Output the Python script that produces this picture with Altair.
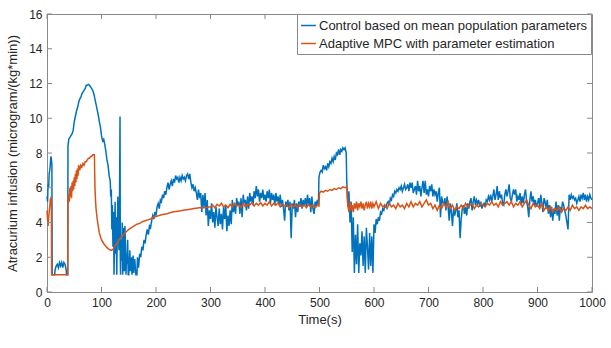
import altair as alt
import pandas as pd

# ---- data ----
blue_t = [0, 1, 2, 3, 4, 5, 6, 7, 8, 9, 9.5, 14, 15, 17, 19, 21, 23, 25, 27, 29, 31, 33, 35, 36, 38,
          38.5, 40, 42, 44, 46, 48, 50, 52, 54, 56, 58, 60, 62, 64, 66, 68, 70, 72, 74, 76, 78, 80,
          82, 84, 86, 88, 90, 92, 94, 96, 98, 100, 102, 104, 106, 108, 110, 112, 114, 116, 117, 118,
          119, 120, 121, 122, 123, 124, 125, 126, 127, 128, 129, 130, 131, 132, 133, 134, 134.5, 135,
          136, 137, 138, 139, 140, 141, 142, 143, 144, 145, 146, 147, 148, 149, 150, 152, 153, 155,
          156, 158, 159, 161, 163, 165, 166, 168, 170, 172, 174, 176, 178, 180, 182, 184, 186, 188,
          190, 192, 194, 196, 198, 200, 202, 204, 206, 208, 210, 212, 214, 216, 218, 220, 222, 224,
          226, 228, 230, 232, 234, 236, 238, 240, 242, 244, 246, 248, 250, 252, 254, 256, 258, 260,
          262, 264, 266, 268, 270, 272, 274, 276, 278, 280, 282, 284, 286, 288, 290, 292, 294, 296,
          298, 300, 302, 304, 306, 308, 310, 312, 314, 316, 318, 320, 322, 324, 326, 328, 330, 332,
          334, 336, 338, 340, 342, 344, 346, 348, 350, 352, 354, 356, 358, 360, 362, 364, 366, 368,
          370, 372, 374, 376, 378, 380, 382, 384, 386, 388, 390, 392, 394, 396, 398, 400, 402, 404,
          406, 408, 410, 412, 414, 416, 418, 420, 422, 424, 426, 428, 430, 432, 434, 436, 438, 440,
          442, 444, 446, 448, 450, 452, 454, 456, 458, 460, 462, 464, 466, 468, 470, 472, 474, 476,
          478, 480, 482, 484, 486, 488, 490, 492, 494, 496, 498, 499, 501, 503, 505, 507, 509, 511,
          513, 515, 517, 519, 521, 523, 525, 527, 529, 531, 533, 535, 537, 539, 541, 543, 545, 547,
          549, 550, 552, 554, 556, 558, 560, 562, 564, 566, 568, 570, 572, 574, 576, 578, 580, 582,
          584, 586, 588, 590, 592, 594, 596, 598, 600, 602, 604, 606, 608, 610, 612, 614, 616, 618,
          620, 622, 624, 626, 628, 630, 632, 634, 636, 638, 640, 642, 644, 646, 648, 650, 652, 654,
          656, 658, 660, 662, 664, 666, 668, 670, 672, 674, 676, 678, 680, 682, 684, 686, 688, 690,
          692, 694, 696, 698, 700, 702, 704, 706, 708, 710, 712, 714, 716, 718, 720, 722, 724, 726,
          728, 730, 732, 734, 736, 738, 740, 742, 744, 746, 748, 750, 752, 754, 756, 758, 760, 762,
          764, 766, 768, 770, 772, 774, 776, 778, 780, 782, 784, 786, 788, 790, 792, 794, 796, 798,
          800, 802, 804, 806, 808, 810, 812, 814, 816, 818, 820, 822, 824, 826, 828, 830, 832, 834,
          836, 838, 840, 842, 844, 846, 848, 850, 852, 854, 856, 858, 860, 862, 864, 866, 868, 870,
          872, 874, 876, 878, 880, 882, 884, 886, 888, 890, 892, 894, 896, 898, 900, 902, 904, 906,
          908, 910, 912, 914, 916, 918, 920, 922, 924, 926, 928, 930, 932, 934, 936, 938, 940, 942,
          944, 946, 948, 950, 952, 954, 956, 958, 960, 962, 964, 966, 968, 970, 972, 974, 976, 978,
          980, 982, 984, 986, 988, 990, 992, 994, 996, 998, 1000]
blue_v = [5.5, 5.2, 6.2, 6.0, 6.8, 7.0, 7.3, 7.8, 7.7, 7.3, 1.0, 1.0, 1.3, 1.5, 1.6, 1.4, 1.7, 1.5,
          1.7, 1.4, 1.7, 1.6, 1.3, 1.0, 1.0,
          8.4, 8.8, 8.9, 9.0, 9.1, 9.3, 9.8, 10.1, 10.4, 10.6, 10.9, 11.1, 11.2, 11.4, 11.5, 11.6,
          11.7, 11.9, 11.9, 11.95, 11.9, 11.8, 11.7, 11.6, 11.4, 11.1, 10.8, 10.5, 10.2, 9.8, 9.5,
          9.0, 8.7, 8.8, 8.5, 8.1, 7.6, 7.3, 6.7, 6.4, 5.5, 5.9,
          3.6, 5.0, 2.6, 4.6, 1.0, 3.1, 5.2, 2.2, 4.3, 1.0, 3.5, 5.5, 4.2, 2.4, 5.0, 10.1, 2.0, 1.0,
          3.0, 1.8, 4.0, 1.0, 2.5, 3.7, 1.2, 3.8, 2.7, 1.0, 2.2, 1.6, 3.0, 1.0, 1.0, 2.4, 1.2, 2.0,
          1.0, 2.1, 1.1, 1.9, 1.0, 1.0, 2.0, 1.4, 2.2, 2.0, 2.6, 2.4, 3.0, 2.8, 3.3, 3.6, 3.3, 3.8,
          3.7, 4.1, 4.4, 4.2, 4.6, 4.4, 4.9, 5.1, 4.8, 5.3, 5.2, 5.6, 5.4, 5.8, 5.6, 6.0, 6.3, 5.9,
          6.2, 6.4, 6.1, 6.5, 6.3, 6.7, 6.5, 6.6, 6.3, 6.6, 6.4, 6.7, 6.5, 6.6, 6.4, 6.7, 6.8, 6.5,
          6.8, 6.3, 6.0, 6.2, 5.8, 6.0, 5.7, 5.3, 5.9, 5.4, 5.7, 4.6, 5.6, 4.9, 5.7, 4.4, 5.3, 3.8,
          4.7, 4.2, 5.1, 4.0, 4.6, 3.7, 4.9, 4.3, 3.8, 4.8, 3.9, 4.5, 3.6, 4.9, 4.2, 5.0, 3.5, 4.4,
          3.8, 4.7, 3.9, 5.3, 4.6, 5.0, 4.5, 5.4, 5.0, 5.2, 4.5, 5.4, 4.3, 5.6, 5.1, 5.3, 4.7, 5.5,
          4.8, 5.7, 5.2, 5.5, 5.0, 5.8, 5.4, 6.1, 5.5, 5.9, 5.2, 5.7, 5.4, 5.9, 5.3, 5.6, 5.2, 5.8,
          5.4, 5.9, 5.1, 5.7, 5.3, 5.6, 5.0, 5.7, 5.2, 5.5, 5.0, 5.6, 4.9, 5.3, 4.8, 4.1, 5.2, 4.9,
          5.3, 4.7, 5.2, 3.1, 5.1, 4.8, 5.3, 4.3, 5.1, 4.6, 5.2, 4.9, 5.4, 4.8, 5.3, 5.0, 5.4, 4.9,
          5.6, 5.0, 5.4, 4.6, 5.5, 4.8, 4.5, 5.2, 5.0, 5.3, 5.0, 6.6, 6.9, 7.0, 6.9, 7.3, 7.1, 7.2,
          7.0, 7.4, 7.2, 7.5, 7.4, 7.7, 7.5, 7.8, 7.6, 8.0, 7.9, 8.2, 7.9, 8.2, 8.1, 8.3, 8.2, 8.3,
          8.0, 6.4, 4.9, 5.8, 4.0, 5.2, 2.3, 4.3, 1.1, 3.3, 1.6, 3.9, 1.1, 2.8, 2.1, 3.5, 1.5, 3.2,
          1.1, 3.7, 2.6, 1.3, 3.4, 1.5, 3.2, 1.1, 3.9, 3.4, 4.2, 3.9, 4.3, 4.1, 4.6, 4.5, 4.8, 4.7,
          5.0, 4.9, 5.1, 5.2, 5.0, 5.4, 5.3, 5.6, 5.5, 5.8, 5.7, 5.9, 5.8, 6.0, 5.9, 6.1, 5.8, 6.0,
          6.2, 5.9, 6.0, 6.2, 5.8, 6.3, 6.0, 6.3, 5.7, 5.9, 6.1, 5.6, 6.4, 5.8, 6.1, 5.5, 6.0, 6.4,
          5.7, 6.4, 5.6, 5.9, 5.5, 6.1, 5.8, 6.2, 5.5, 5.9, 5.6, 5.8, 5.2, 5.7, 6.0, 4.3, 5.5, 5.2,
          5.0, 5.4, 4.7, 5.5, 4.9, 4.1, 5.1, 4.6, 3.8, 4.8, 4.4, 4.7, 5.1, 4.3, 4.7, 3.1, 4.2, 4.8,
          5.0, 4.5, 4.9, 4.4, 5.1, 4.8, 5.2, 5.4, 4.7, 5.2, 5.5, 5.0, 5.3, 5.1, 5.3, 4.9, 5.2, 4.8,
          5.0, 5.1, 4.9, 5.3, 5.2, 5.5, 5.3, 5.6, 5.2, 5.5, 5.9, 5.3, 5.6, 6.1, 5.3, 5.8, 5.4, 5.6,
          5.1, 5.0, 5.6, 5.9, 5.5, 5.8, 6.2, 5.4, 5.2, 5.6, 5.9, 5.6, 5.9, 5.2, 5.5, 5.3, 5.7, 5.0,
          5.5, 5.1, 5.6, 5.9, 5.2, 4.9, 4.3, 5.3, 5.8, 5.2, 5.5, 5.0, 5.3, 4.9, 5.1, 5.4, 4.9, 5.6,
          5.1, 4.6, 5.4, 5.2, 4.8, 5.3, 4.5, 5.0, 4.3, 4.9, 4.1, 4.8, 4.5, 5.2, 4.4, 5.0, 4.1, 4.9,
          4.6, 5.2, 5.0, 4.7, 4.4, 4.0, 3.6, 5.6, 5.3, 5.6, 5.4, 5.5, 5.3, 5.4, 5.1, 5.3, 5.5, 5.2,
          5.6, 5.4, 5.7, 5.3, 5.6, 5.2, 5.5, 5.3, 5.6, 5.4, 5.3]

orange_t = [0, 1, 2, 3, 4, 5, 6, 7, 8, 8.5, 38, 38.5, 40, 41, 42, 43, 44, 45, 46, 47, 48, 49, 50,
            51, 52, 53, 54, 55, 56, 57, 58, 60, 62, 64, 66, 68, 70, 72, 74, 76, 78, 80, 82, 84, 86,
            87, 87.5, 88, 89, 90, 92, 94, 96, 98, 100, 103, 106, 110, 114, 118, 121, 124, 128, 132,
            136, 140, 145, 150, 155, 160, 165, 170, 175, 180, 185, 190, 195, 200, 210, 220, 230,
            240, 250, 260, 270, 280, 290, 300, 304, 308, 312, 316, 320, 324, 328, 332, 336, 340,
            344, 348, 352, 356, 360, 364, 368, 372, 376, 380, 384, 388, 392, 396, 400, 404, 408,
            412, 416, 420, 424, 428, 432, 436, 440, 444, 448, 452, 456, 460, 464, 468, 472, 476,
            480, 484, 488, 492, 496, 499, 500, 503, 507, 511, 515, 519, 523, 527, 531, 535, 539,
            543, 547, 550, 552, 554, 556, 558, 560, 562, 564, 566, 568, 570, 572, 574, 576, 578,
            580, 582, 584, 586, 588, 590, 592, 594, 596, 598, 600, 604, 608, 612, 616, 620, 624,
            628, 632, 636, 640, 644, 648, 652, 656, 660, 664, 668, 672, 676, 680, 684, 688, 692,
            696, 700, 704, 708, 712, 716, 720, 724, 728, 732, 736, 740, 744, 748, 752, 756, 760,
            764, 768, 772, 776, 780, 784, 788, 792, 796, 800, 804, 808, 812, 816, 820, 824, 828,
            832, 836, 840, 844, 848, 852, 856, 860, 864, 868, 872, 876, 880, 884, 888, 892, 896,
            900, 904, 908, 912, 916, 920, 924, 928, 932, 936, 940, 944, 948, 952, 956, 960, 964,
            968, 972, 976, 980, 984, 988, 992, 996, 1000]
orange_v = [4.7, 4.2, 3.8, 4.3, 4.6, 4.9, 5.3, 5.4, 5.5, 1.0, 1.0, 5.4, 5.6, 5.2, 6.0, 5.5, 6.1,
            5.4, 6.3, 5.8, 6.4, 5.9, 6.6, 6.1, 6.8, 6.3, 7.0, 6.5, 7.1, 6.7, 7.3, 7.0, 7.3, 7.2,
            7.4, 7.3, 7.5, 7.5, 7.6, 7.7, 7.7, 7.8, 7.8, 7.9, 7.9, 7.9, 6.8, 6.0, 5.3, 4.8, 4.2,
            3.8, 3.4, 3.2, 3.0, 2.85, 2.7, 2.55, 2.45, 2.4, 2.45, 2.6, 2.8, 3.0, 3.15, 3.3, 3.45,
            3.6, 3.7, 3.8, 3.9, 3.95, 4.05, 4.1, 4.15, 4.2, 4.3, 4.35, 4.45, 4.5, 4.6, 4.65, 4.7,
            4.75, 4.8, 4.85, 4.85, 4.9, 5.0, 4.85, 5.05, 4.95, 5.1, 4.9, 5.0, 4.85, 5.05, 4.9,
            5.1, 4.95, 5.0, 4.85, 5.1, 4.9, 5.05, 5.0, 5.15, 4.95, 5.1, 5.0, 5.15, 4.95, 5.1, 5.0,
            5.2, 4.95, 5.1, 5.0, 5.15, 4.9, 5.05, 4.95, 5.0, 4.85, 5.05, 4.9, 5.0, 4.85, 5.05,
            4.9, 5.0, 4.85, 5.05, 4.9, 5.0, 4.85, 5.0, 4.95, 5.7, 5.8, 5.75, 5.85, 5.8, 5.9, 5.85,
            5.95, 5.9, 6.0, 5.95, 6.05, 6.0, 6.05, 5.0, 4.6, 5.2, 4.7, 5.0, 4.6, 5.1, 4.8, 5.2,
            4.7, 5.1, 4.9, 5.2, 4.8, 5.1, 4.7, 5.0, 5.2, 4.8, 5.1, 4.9, 5.2, 4.8, 5.1, 4.9, 5.2,
            4.8, 5.1, 4.9, 5.0, 4.8, 5.1, 4.9, 5.0, 4.8, 5.1, 4.9, 5.0, 4.8, 5.1, 4.9, 5.2, 4.9,
            5.1, 5.0, 5.2, 4.9, 5.1, 5.3, 5.0, 5.1, 4.8, 5.0, 4.7, 5.0, 4.8, 5.1, 4.9, 5.2, 4.8,
            5.0, 4.7, 4.9, 4.8, 5.0, 4.8, 5.1, 4.9, 5.0, 5.1, 4.8, 5.0, 4.9, 5.1, 5.0, 4.9, 5.1,
            5.0, 5.2, 5.0, 5.1, 4.9, 5.2, 5.0, 5.1, 5.2, 5.0, 5.2, 4.9, 5.1, 5.0, 5.2, 4.9, 5.1,
            5.3, 5.0, 4.8, 5.1, 4.9, 5.0, 4.8, 5.1, 4.7, 4.9, 4.7, 4.9, 4.6, 4.8, 4.7, 4.9, 4.6,
            4.8, 4.7, 4.9, 4.7, 5.0, 4.8, 4.9, 4.7, 4.9, 4.8, 5.0, 4.8, 4.9, 4.8]

series_names = ["Control based on mean population parameters",
                "Adaptive MPC with parameter estimation"]
series_colors = ["#0072BD", "#D95319"]
x_tick_values = list(range(0, 1001, 100))
y_tick_values = list(range(0, 17, 2))

# ---- tables ----
blue_df = pd.DataFrame({"t": blue_t, "v": blue_v, "s": series_names[0]})
orange_df = pd.DataFrame({"t": orange_t, "v": orange_v, "s": series_names[1]})
xt_df = pd.DataFrame({"t": x_tick_values})
yt_df = pd.DataFrame({"v": y_tick_values})

FONT = "Liberation Sans"
FRAME = "#8a8a8a"
TXT = "#262626"
W, H = 545, 278

x_scale = alt.Scale(domain=[0, 1000], nice=False, zero=False)
y_scale = alt.Scale(domain=[0, 16], nice=False)
color_scale = alt.Scale(domain=series_names, range=series_colors)

x_axis = alt.Axis(values=x_tick_values, grid=False, ticks=False, domain=False, format="d",
                  labelOverlap=False, labelFlush=False,
                  labelFont=FONT, labelFontSize=12, labelColor=TXT, labelPadding=5,
                  title="Time(s)", titleFont=FONT, titleFontSize=13, titleFontWeight="normal",
                  titleColor=TXT, titlePadding=5)
y_axis = alt.Axis(values=y_tick_values, grid=False, ticks=False, domain=False, format="d",
                  labelOverlap=False, labelFlush=False,
                  labelFont=FONT, labelFontSize=12, labelColor=TXT, labelPadding=5,
                  title="Atracurium infusion (microgram/(kg*min))", titleFont=FONT,
                  titleFontSize=13, titleFontWeight="normal", titleColor=TXT, titlePadding=9)

legend = alt.Legend(title=None, orient="none", legendX=250, legendY=0,
                    symbolType="stroke", symbolSize=220, symbolStrokeWidth=1.5,
                    labelFont=FONT, labelFontSize=13, labelColor=TXT, labelLimit=400,
                    rowPadding=2, padding=3, strokeColor=FRAME, fillColor="white",
                    symbolOffset=0, labelOffset=2)

blue = alt.Chart(blue_df).mark_line(strokeWidth=1.5, interpolate="linear").encode(
    x=alt.X("t:Q", scale=x_scale, axis=x_axis),
    y=alt.Y("v:Q", scale=y_scale, axis=y_axis),
    color=alt.Color("s:N", scale=color_scale, legend=legend),
)
orange = alt.Chart(orange_df).mark_line(strokeWidth=1.5, interpolate="linear").encode(
    x=alt.X("t:Q", scale=x_scale, axis=x_axis),
    y=alt.Y("v:Q", scale=y_scale, axis=y_axis),
    color=alt.Color("s:N", scale=color_scale, legend=legend),
)

tick_len = 5
xb = alt.Chart(xt_df).mark_rule(color=FRAME, strokeWidth=1).encode(
    x=alt.X("t:Q", scale=x_scale, axis=x_axis), y=alt.value(H), y2=alt.value(H - tick_len))
xtop = alt.Chart(xt_df).mark_rule(color=FRAME, strokeWidth=1).encode(
    x=alt.X("t:Q", scale=x_scale, axis=x_axis), y=alt.value(0), y2=alt.value(tick_len))
yl = alt.Chart(yt_df).mark_rule(color=FRAME, strokeWidth=1).encode(
    y=alt.Y("v:Q", scale=y_scale, axis=y_axis), x=alt.value(0), x2=alt.value(tick_len))
yr = alt.Chart(yt_df).mark_rule(color=FRAME, strokeWidth=1).encode(
    y=alt.Y("v:Q", scale=y_scale, axis=y_axis), x=alt.value(W), x2=alt.value(W - tick_len))

chart = alt.layer(blue, orange, xb, xtop, yl, yr).properties(
    width=W, height=H,
    padding={"left": 47, "top": 14, "right": 19, "bottom": 56},
    autosize=alt.AutoSizeParams(type="none"),
    background="white",
).configure_view(stroke=FRAME, strokeWidth=1)

chart.save("out.html", embed_options={"renderer": "svg", "actions": False})
